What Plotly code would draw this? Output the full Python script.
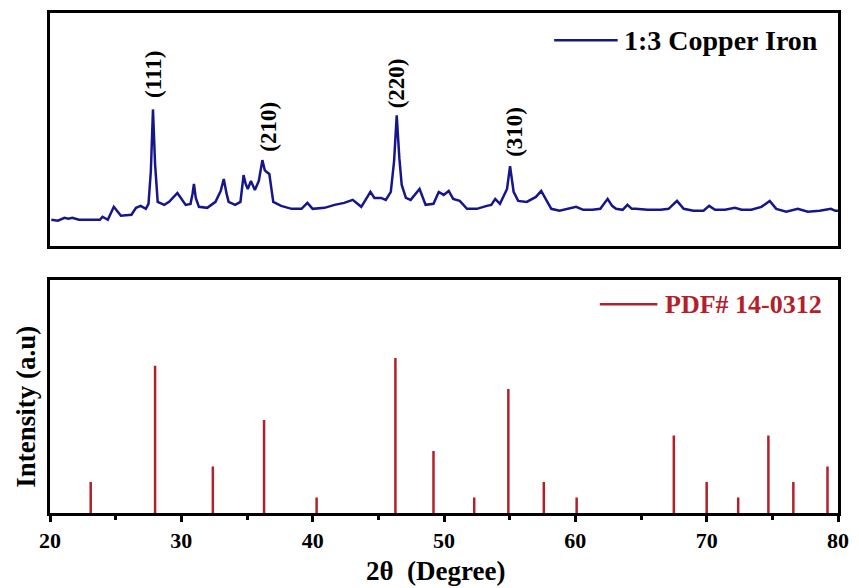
import plotly.graph_objects as go

# ---------------- data ----------------
# Top panel: measured XRD pattern (2theta in degrees, intensity a.u.)
xrd_two_theta = [20.1, 20.6, 21.1, 21.4, 21.7, 22.2, 23.0, 23.8, 24.0, 24.4, 24.86, 25.4, 26.2, 26.55,
                 26.9, 27.3, 27.5, 27.68, 27.84, 28.0, 28.2, 28.7, 29.07, 29.7, 30.33, 30.7, 30.85,
                 30.96, 31.1, 31.34, 31.97, 32.6, 33.0, 33.23, 33.45, 33.6, 34.1, 34.5, 34.74, 34.9,
                 35.06, 35.3, 35.6, 35.9, 36.17, 36.35, 36.5, 36.7, 37.0, 37.6, 38.4, 39.15, 39.6,
                 40.0, 40.9, 41.67, 42.4, 43.05, 43.7, 44.4, 44.7, 45.2, 45.57, 45.95, 46.2, 46.4,
                 46.6, 46.78, 47.1, 47.46, 48.14, 48.6, 49.2, 49.6, 49.98, 50.36, 50.7, 51.2, 51.75,
                 52.5, 53.26, 53.6, 53.9, 54.26, 54.8, 55.03, 55.3, 55.65, 56.3, 57.0, 57.4, 57.74,
                 58.17, 58.8, 59.55, 60.06, 60.6, 61.3, 61.9, 62.46, 62.8, 63.1, 63.6, 63.97, 64.3,
                 64.6, 65.5, 66.5, 67.1, 67.74, 68.25, 69.0, 69.76, 70.19, 70.64, 71.4, 72.15, 72.66,
                 73.4, 74.17, 74.8, 75.3, 76.06, 76.94, 77.7, 78.6, 79.46, 79.8, 80.0]
xrd_intensity = [26, 25, 28, 27, 28, 26, 26, 26, 29, 26, 39, 30, 31, 38,
                 40, 37, 42, 75, 137, 82, 44, 41, 44, 53, 41, 42, 52,
                 62, 48, 39, 38, 44, 55, 67, 52, 44, 41, 44, 71, 62,
                 57, 65, 56, 65, 86, 76, 74, 72, 44, 40, 37, 37, 43,
                 37, 38, 41, 43, 46, 39, 54, 48, 48, 46, 54, 85, 131,
                 88, 61, 48, 46, 57, 41, 42, 54, 51, 55, 47, 45, 37,
                 37, 40, 41, 47, 42, 57, 80, 54, 45, 44, 49, 55, 47,
                 37, 35, 37, 39, 36, 36, 37, 47, 40, 37, 36, 41, 37,
                 37, 36, 36, 37, 45, 37, 35, 35, 40, 36, 36, 38, 36,
                 36, 39, 45, 37, 34, 37, 34, 35, 37, 35, 35]

# Peak labels (Miller indices) in the top panel
hkl_labels = ["(111)", "(210)", "(220)", "(310)"]
hkl_x = [27.87, 36.63, 46.4, 55.37]
hkl_y = [172, 120, 163, 114]

# Bottom panel: reference pattern PDF# 14-0312
ref_two_theta = [23.1, 28.0, 32.4, 36.3, 40.3, 46.3, 49.2, 52.3, 54.9, 57.6, 60.1,
                 67.5, 70.0, 72.4, 74.7, 76.6, 79.2]
ref_intensity = [20, 95, 30, 60, 10, 100, 40, 10, 80, 20, 10,
                 50, 20, 10, 50, 20, 30]

series_top = "1:3 Copper Iron"
series_bottom = "PDF# 14-0312"
x_ticks = [20, 30, 40, 50, 60, 70, 80]

# ---------------- styles ----------------
BLUE = "#16168a"
RED = "#b3202a"
SERIF = "Liberation Serif"

W, H = 859, 588
ML, MR, MT, MB = 50, 15, 10, 75
plot_w = W - ML - MR
plot_h = H - MT - MB


def py(pix):
    """pixel y (from top) -> paper y"""
    return (H - MB - pix) / plot_h


def px(pix):
    return (pix - ML) / plot_w


fig = go.Figure()

fig.add_trace(go.Scatter(
    x=xrd_two_theta, y=xrd_intensity, mode="lines",
    line=dict(color=BLUE, width=2.5), name=series_top,
    xaxis="x", yaxis="y", showlegend=False))

stick_x, stick_y = [], []
for t, v in zip(ref_two_theta, ref_intensity):
    stick_x += [t, t, None]
    stick_y += [0, v, None]
fig.add_trace(go.Scatter(
    x=stick_x, y=stick_y, mode="lines",
    line=dict(color=RED, width=2.5), name=series_bottom,
    xaxis="x2", yaxis="y2", showlegend=False))

frame = dict(showline=True, linecolor="black", linewidth=2.5, mirror=True,
             showgrid=False, zeroline=False)

top_dom = [py(244), 1.0]
bot_dom = [0.0, py(279)]

fig.update_layout(
    width=W, height=H,
    margin=dict(l=ML, r=MR, t=MT, b=MB),
    paper_bgcolor="white", plot_bgcolor="white",
    showlegend=False,
    xaxis=dict(domain=[0, 1], range=[20, 80], anchor="y", showticklabels=False,
               ticks="", **frame),
    yaxis=dict(domain=top_dom, range=[0, 234], anchor="x", showticklabels=False,
               ticks="", **frame),
    xaxis2=dict(domain=[0, 1], range=[20, 80], anchor="y2", tickvals=x_ticks,
                ticks="outside", ticklen=6, tickwidth=2.5, tickcolor="black",
                minor=dict(dtick=5, tick0=20, ticks="outside", ticklen=4, tickwidth=2.5,
                           tickcolor="black"),
                tickfont=dict(family=SERIF, size=22, color="black", weight="bold"),
                **frame),
    yaxis2=dict(domain=bot_dom, range=[0, 150], anchor="x2", showticklabels=False,
                ticks="", **frame),
)

# hkl annotations
for lab, xx, yy in zip(hkl_labels, hkl_x, hkl_y):
    fig.add_annotation(x=xx, y=yy, xref="x", yref="y", text=lab, showarrow=False,
                       textangle=-90, xanchor="center", yanchor="middle",
                       font=dict(family=SERIF, size=23, color="black", weight="bold"))

# Manual legends
fig.add_shape(type="line", xref="paper", yref="paper", x0=px(558), x1=px(622),
              y0=py(37.5), y1=py(37.5), line=dict(color=BLUE, width=2.5))
fig.add_annotation(x=px(626), y=py(37.5), xref="paper", yref="paper", text=series_top,
                   showarrow=False, xanchor="left", yanchor="middle",
                   font=dict(family=SERIF, size=28, color="black", weight="bold"))
fig.add_shape(type="line", xref="paper", yref="paper", x0=px(604), x1=px(662),
              y0=py(303), y1=py(303), line=dict(color=RED, width=2.5))
fig.add_annotation(x=px(668), y=py(303), xref="paper", yref="paper", text=series_bottom,
                   showarrow=False, xanchor="left", yanchor="middle",
                   font=dict(family=SERIF, size=26, color=RED, weight="bold"))

# Axis titles
fig.add_annotation(x=px(439), y=py(571), xref="paper", yref="paper", text="2θ  (Degree)",
                   showarrow=False, xanchor="center", yanchor="middle",
                   font=dict(family=SERIF, size=27, color="black", weight="bold"))
fig.add_annotation(x=px(25), y=py(406), xref="paper", yref="paper", text="Intensity (a.u)",
                   showarrow=False, xanchor="center", yanchor="middle", textangle=-90,
                   font=dict(family=SERIF, size=27, color="black", weight="bold"))

fig.write_html("out.html")
